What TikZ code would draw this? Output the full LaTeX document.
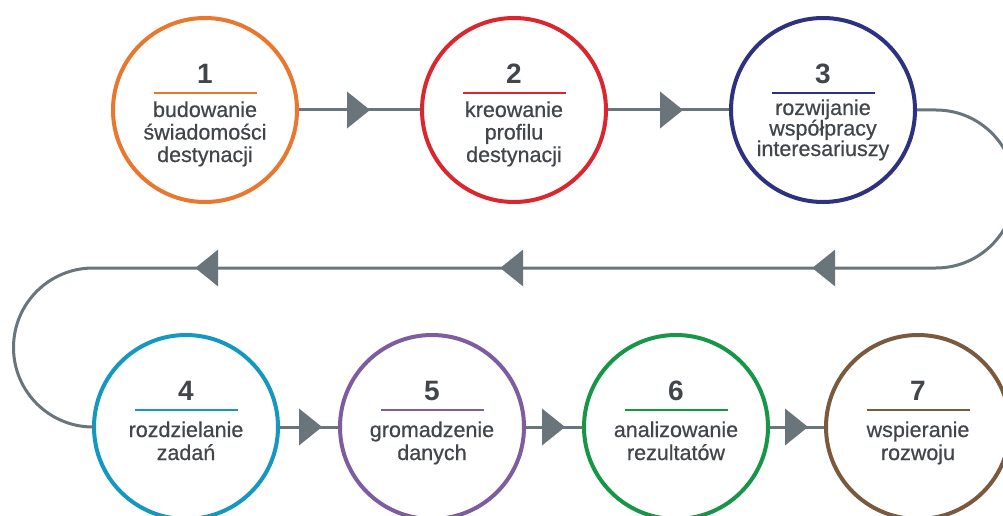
\documentclass[tikz,border=0pt]{standalone}
\usepackage{fontspec}
\setmainfont{Liberation Sans}
\newfontfamily\labelfont[FakeBold=0.6]{Liberation Sans}
\usetikzlibrary{calc,decorations.markings}

\definecolor{linegrey}{RGB}{106,117,123}
\definecolor{txtgrey}{RGB}{66,70,74}
\definecolor{colA}{RGB}{233,119,45}
\definecolor{colB}{RGB}{220,38,46}
\definecolor{colC}{RGB}{45,50,128}
\definecolor{colD}{RGB}{20,152,192}
\definecolor{colE}{RGB}{125,92,160}
\definecolor{colF}{RGB}{24,150,72}
\definecolor{colG}{RGB}{122,90,62}

\tikzset{
  ring/.style={circle, line width=4pt, minimum size=184pt, inner sep=0pt},
  num/.style={anchor=base, inner sep=0pt, text=txtgrey,
    font=\fontsize{28}{28}\selectfont\bfseries},
  lbl/.style={anchor=base, inner sep=0pt, text=txtgrey,
    font=\fontsize{21.5}{21.5}\labelfont},
  conn/.style={draw=linegrey, line width=3pt},
  % filled triangle whose tip sits at the given distance along the path
  tipat/.style={postaction={decorate, decoration={markings,
    mark=at position #1 with {\fill[linegrey] (0pt,0pt) -- (-23pt,-18.5pt) -- (-23pt,18.5pt) -- cycle;}}}},
}

% one stage: name, x, y, colour, number, first-line offset, line gap, text lines
\newcommand\stagering[8]{%
  \node[ring, draw=#4] (#1) at (#2,#3) {};
  \node[num] (#1-n) at ($(#1)+(0,-26.5)$) {#5};
  \draw[draw=#4, line width=2pt] ($(#1)+(-51.5,-17)$) -- ($(#1)+(51.5,-17)$);
  \foreach \t [count=\i from 0] in {#8}
    \node[lbl] (#1-l\i) at ($(#1)+(0,{#6+\i*#7})$) {\t};
}

\begin{document}
\begin{tikzpicture}[x=1pt, y=-1pt]
  \clip (0,0) rectangle (1003,516);
  \fill[white] (0,0) rectangle (1003,516);

  % upper row
  \stagering{s1}{205}{110}{colA}{1}{7}{22.5}{budowanie,świadomości,destynacji}
  \stagering{s2}{514}{110}{colB}{2}{7}{22.5}{kreowanie,profilu,destynacji}
  \stagering{s3}{823}{110}{colC}{3}{5}{20.5}{rozwijanie,współpracy,interesariuszy}

  % lower row
  \stagering{s4}{186}{427}{colD}{4}{10}{23}{rozdzielanie,zadań}
  \stagering{s5}{432}{427}{colE}{5}{10}{23}{gromadzenie,danych}
  \stagering{s6}{676}{427}{colF}{6}{10}{23}{analizowanie,rezultatów}
  \stagering{s7}{918}{427}{colG}{7}{10}{23}{wspieranie,rozwoju}

  % turning points of the return loop
  \coordinate (rtop) at (936,110);
  \coordinate (ltop) at (93,268);

  % connectors
  \draw[conn, tipat=71pt] (s1) -- (s2);
  \draw[conn, tipat=75pt] (s2) -- (s3);
  \draw[conn, tipat=391pt, tipat=703pt, tipat=1008pt]
    (s3.east) -- (rtop) arc[start angle=-90, end angle=90, radius=79]
    -- (ltop) arc[start angle=270, end angle=90, radius=79.5] -- (s4.west);
  \draw[conn, tipat=42pt] (s4) -- (s5);
  \draw[conn, tipat=39pt] (s5) -- (s6);
  \draw[conn, tipat=38pt] (s6) -- (s7);
\end{tikzpicture}
\end{document}
